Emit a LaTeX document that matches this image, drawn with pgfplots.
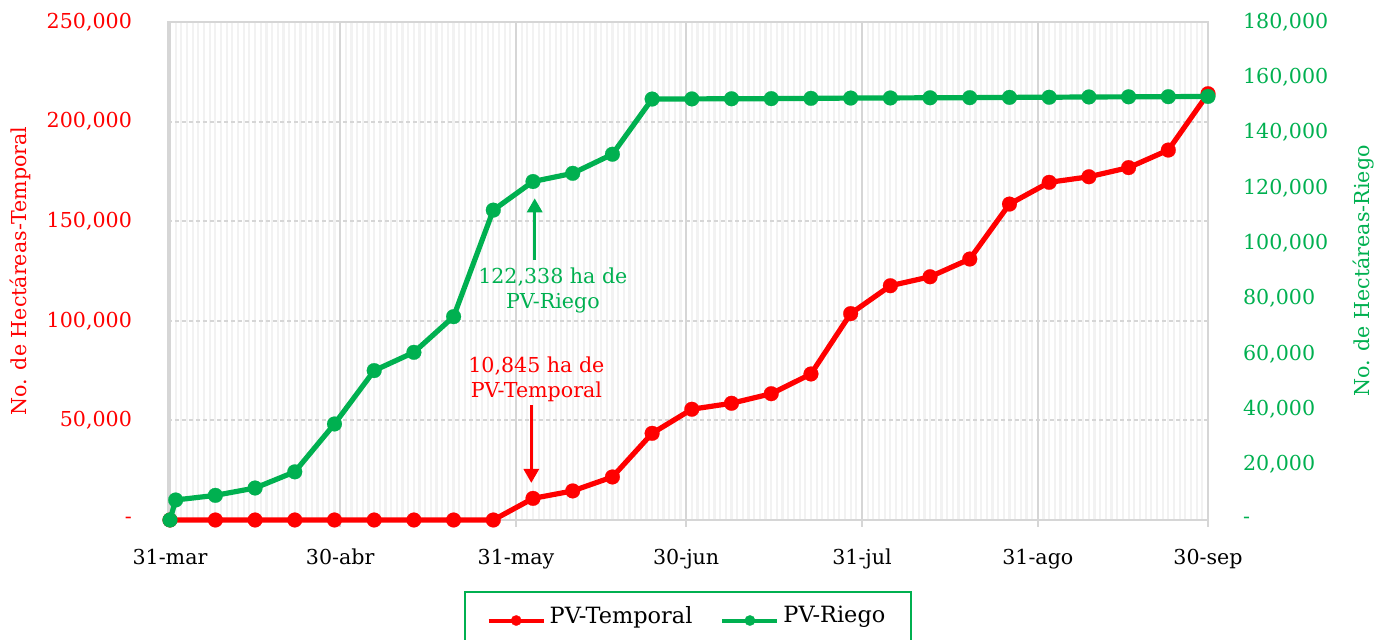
\documentclass[border=0pt]{standalone}
\usepackage{pgfplots}
\pgfplotsset{compat=1.18}
\usepackage{pgfplotstable}
\usepackage{fontspec}
\setmainfont{DejaVu Serif}
\usetikzlibrary{arrows.meta}
\definecolor{cred}{RGB}{255,0,0}
\definecolor{cgreen}{RGB}{0,176,80}
\definecolor{majgrid}{RGB}{214,214,214}
\definecolor{mingrid}{RGB}{242,242,242}
\newcommand{\fs}{\fontsize{10.3}{12.6}\selectfont}
\newcommand{\fl}{\fontsize{11.2}{13.4}\selectfont}

\pgfplotstableread{
d v
0 0
8 0
15 0
22 0
29 0
36 0
43 0
50 0
57 0
64 10845
71 14600
78 21600
85 43500
92 55600
99 58600
106 63400
113 73300
120 103600
127 117600
134 122100
141 131000
148 158600
155 169500
162 172300
169 176900
176 185700
183 214000
}\temporal

\pgfplotstableread{
d v
0 0
1 7230
8 8900
15 11560
22 17400
29 34700
36 54000
43 60600
50 73500
57 112000
64 122338
71 125300
78 132200
85 152150
92 152200
99 152250
106 152300
113 152400
120 152500
127 152550
134 152600
141 152650
148 152750
155 152800
162 152900
169 152950
176 153000
183 153100
}\riego

\begin{document}
\begin{tikzpicture}
\begin{axis}[
  scale only axis, width=520pt, height=249pt,
  xmin=-0.35, xmax=183, ymin=0, ymax=250000,
  scaled x ticks=false, scaled y ticks=false,
  xtick={0,30,61,91,122,153,183},
  xticklabels={31-mar,30-abr,31-may,30-jun,31-jul,31-ago,30-sep},
  minor xtick={0,1,...,183},
  ytick={0,50000,100000,150000,200000,250000},
  yticklabels={-,{50,000},{100,000},{150,000},{200,000},{250,000}},
  xmajorgrids, xminorgrids, ymajorgrids,
  major x grid style={majgrid, line width=1pt},
  minor x grid style={mingrid, line width=1.1pt},
  major y grid style={majgrid, line width=1pt, dash pattern=on 2pt off 1.5pt},
  axis line style={majgrid, line width=1pt},
  tick align=outside, xtick pos=left, ytick pos=left,
  major tick length=3.5pt, minor tick length=0pt,
  xtick style={majgrid, line width=1pt},
  ytick style={draw=none},
  tick label style={font=\fs},
  yticklabel style={cred, xshift=-11pt},
  xticklabel style={black, yshift=-7.5pt},
  ylabel={No. de Hectáreas-Temporal},
  ylabel style={font=\fs, cred, at={(axis description cs:-0.1423,0.5)}, anchor=center},
  clip=false,
]
\addplot[cred, line width=2.6pt, mark=*, mark size=3.7pt, mark options={fill=cred, draw=cred, line width=0.1pt}] table[x=d,y=v] {\temporal};
\draw[cgreen, line width=1.6pt, -{Triangle[length=7pt,width=7.5pt]}] (axis cs:64.3,130500) -- (axis cs:64.3,161500);
\node[cgreen, font=\fs, align=center, inner sep=0pt] at (axis cs:67.5,115300) {122,338 ha de\\PV-Riego};
\node[cred, font=\fs, align=center, inner sep=0pt] at (axis cs:64.6,70800) {10,845 ha de\\PV-Temporal};
\draw[cred, line width=1.6pt, -{Triangle[length=7pt,width=7.5pt]}] (axis cs:63.7,57700) -- (axis cs:63.7,18600);
\end{axis}
\begin{axis}[
  scale only axis, width=520pt, height=249pt,
  xmin=-0.35, xmax=183, ymin=0, ymax=180000,
  scaled x ticks=false, scaled y ticks=false,
  hide x axis,
  axis y line*=right,
  y axis line style={draw=none},
  ytick pos=right, yticklabel pos=right,
  ytick={0,20000,40000,60000,80000,100000,120000,140000,160000,180000},
  yticklabels={-,{20,000},{40,000},{60,000},{80,000},{100,000},{120,000},{140,000},{160,000},{180,000}},
  ytick style={draw=none},
  yticklabel style={font=\fs, cgreen, xshift=14pt},
  ylabel={No. de Hectáreas-Riego},
  ylabel style={font=\fs, cgreen, at={(axis description cs:1.15,0.5)}, anchor=center},
  clip=false,
  legend columns=2,
  legend style={at={(0.5,-0.1426)}, anchor=north, draw=cgreen, line width=1pt, font=\fl,
    inner xsep=11pt, inner ysep=5pt, nodes={text depth=6pt},
    /tikz/every even column/.append style={column sep=12pt}},
  legend image code/.code={\draw[line width=2pt, mark size=2.6pt, mark repeat=2, mark phase=2] plot coordinates {(0pt,0pt)(13.75pt,0pt)(27.5pt,0pt)};},
]
\addlegendimage{cred, line width=2.6pt, mark=*, mark options={fill=cred, draw=cred, line width=0.1pt}}
\addlegendentry{PV-Temporal}
\addplot[cgreen, line width=2.6pt, mark=*, mark size=3.7pt, mark options={fill=cgreen, draw=cgreen, line width=0.1pt}] table[x=d,y=v] {\riego};
\addlegendentry{PV-Riego}
\end{axis}
\pgfresetboundingbox
\path[use as bounding box] ([shift={(-84pt,-60pt)}]current axis.south west) rectangle ([shift={(88.5pt,11pt)}]current axis.north east);
\end{tikzpicture}
\end{document}
